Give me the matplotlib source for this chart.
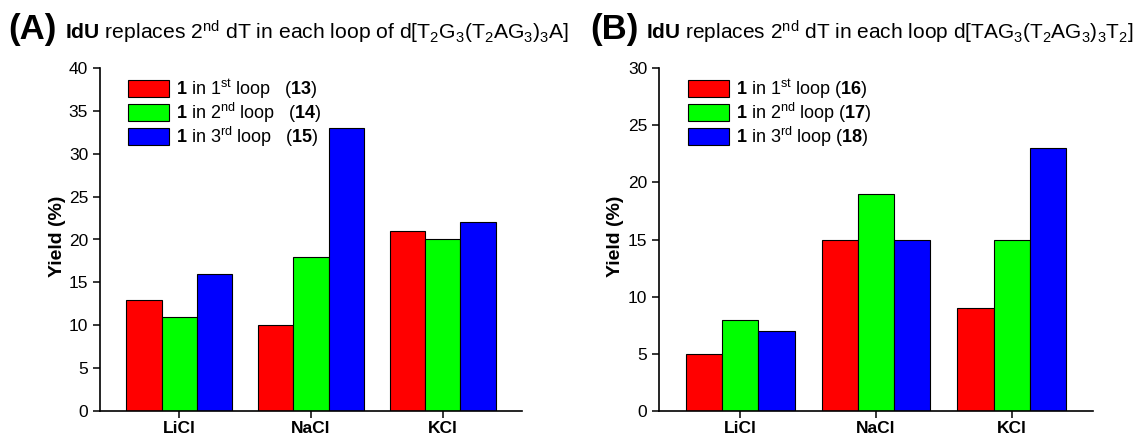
import numpy as np
import matplotlib
matplotlib.use("Agg")
import matplotlib.pyplot as plt

plt.rcParams['font.family'] = ['Liberation Sans', 'DejaVu Sans']
plt.rcParams['mathtext.fontset'] = 'custom'
plt.rcParams['mathtext.rm'] = 'Liberation Sans'
plt.rcParams['mathtext.it'] = 'Liberation Sans:italic'
plt.rcParams['mathtext.bf'] = 'Liberation Sans:bold'

salts = ['LiCl', 'NaCl', 'KCl']

# panel A: d[T2G3(T2AG3)3A]
a_loop1 = [13, 10, 21]
a_loop2 = [11, 18, 20]
a_loop3 = [16, 33, 22]
a_ids = ['13', '14', '15']

# panel B: d[TAG3(T2AG3)3T2]
b_loop1 = [5, 15, 9]
b_loop2 = [8, 19, 15]
b_loop3 = [7, 15, 23]
b_ids = ['16', '17', '18']

colors = ['#ff0000', '#00ff00', '#0000ff']
ordinals = ['st', 'nd', 'rd']


def draw_panel(ax, series, ids, ymax, gap, label_x):
    x = np.arange(1, len(salts) + 1)
    w = 0.8 / 3
    for i, vals in enumerate(series):
        lab = (r'$\mathbf{1}$ in %d$^{\mathrm{%s}}$ loop%s($\mathbf{%s}$)'
               % (i + 1, ordinals[i], gap, ids[i]))
        ax.bar(x + (i - 1) * w, vals, w, color=colors[i], edgecolor='black',
               linewidth=0.8, label=lab, zorder=2)
    ax.set_xlim(0.4, 3.6)
    ax.set_ylim(0, ymax)
    ax.set_yticks(np.arange(0, ymax + 1, 5))
    ax.set_xticks(x)
    ax.set_xticklabels(salts, fontweight='bold', fontsize=12.5)
    ax.tick_params(axis='y', labelsize=12.5, direction='out', length=5, width=1.1)
    ax.tick_params(axis='x', direction='out', length=5, width=1.1, pad=2.5)
    for s in ['top', 'right']:
        ax.spines[s].set_visible(False)
    for s in ['left', 'bottom']:
        ax.spines[s].set_linewidth(1.2)
    ax.set_ylabel('Yield (%)', fontweight='bold', fontsize=14)
    ax.yaxis.set_label_coords(label_x, 0.51)
    ax.legend(loc='upper left', bbox_to_anchor=(0.05, 0.995), frameon=False,
              fontsize=13, handlelength=2.25, handleheight=1.1,
              labelspacing=0.0, handletextpad=0.4, borderaxespad=0)


fig = plt.figure(figsize=(11.43, 4.41), dpi=100)
ax1 = fig.add_axes([100 / 1143, 1 - 411 / 441, 422 / 1143, 343 / 441])
ax2 = fig.add_axes([659 / 1143, 1 - 411 / 441, 434 / 1143, 343 / 441])

draw_panel(ax1, [a_loop1, a_loop2, a_loop3], a_ids, 40, r'$\ \ \ $', -0.08)
draw_panel(ax2, [b_loop1, b_loop2, b_loop3], b_ids, 30, r'$\ $', -0.08)

fig.text(8 / 1143, 1 - 39 / 441, '(A)', fontsize=25, fontweight='bold', va='baseline')
fig.text(65 / 1143, 1 - 39 / 441,
         r'$\mathbf{IdU}$ replaces 2$^{\mathrm{nd}}$ dT in each loop of '
         r'd[T$_2$G$_3$(T$_2$AG$_3$)$_3$A]', fontsize=15.2, va='baseline')
fig.text(590 / 1143, 1 - 39 / 441, '(B)', fontsize=25, fontweight='bold', va='baseline')
fig.text(646 / 1143, 1 - 39 / 441,
         r'$\mathbf{IdU}$ replaces 2$^{\mathrm{nd}}$ dT in each loop '
         r'd[TAG$_3$(T$_2$AG$_3$)$_3$T$_2$]', fontsize=15.0, va='baseline')

fig.savefig('out.png', dpi=100)
